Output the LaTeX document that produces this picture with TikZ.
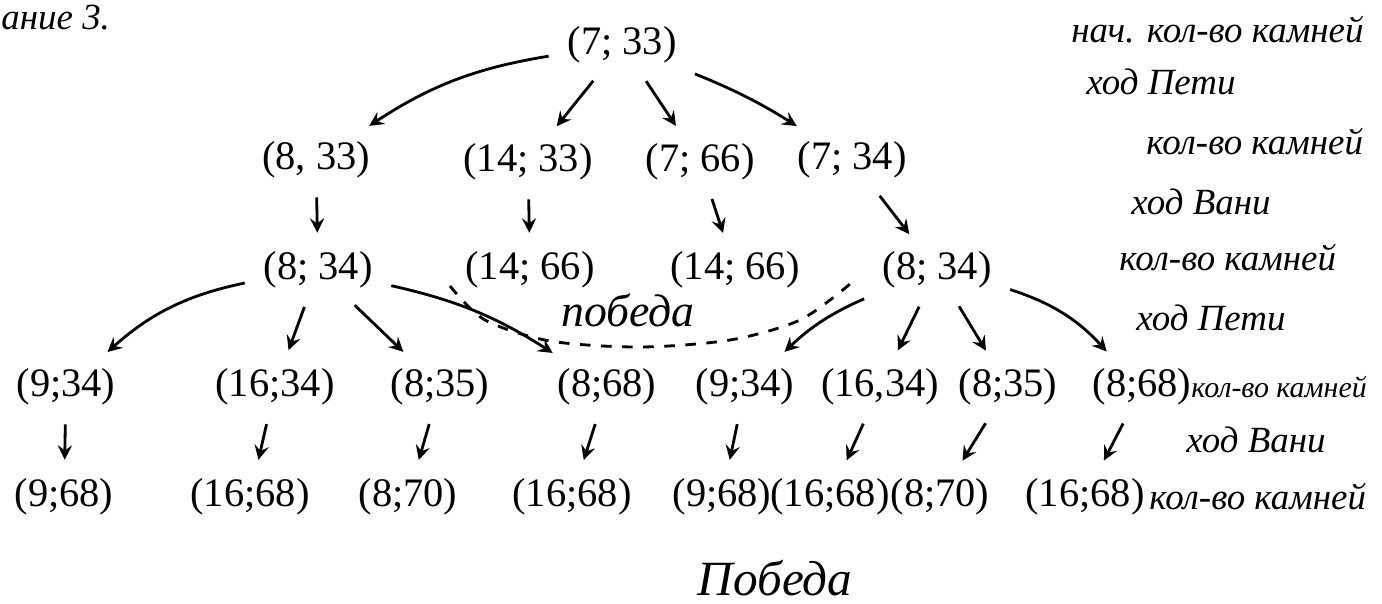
\documentclass[tikz,border=0pt]{standalone}
\usepackage{fontspec}
\setmainfont{Liberation Serif}
\begin{document}
\begin{tikzpicture}[x=0.01cm,y=-0.01cm,>=stealth,thick,
  every node/.style={font=\fontsize{11.5}{13}\selectfont,inner sep=3pt},
  note/.style={font=\itshape\fontsize{10.5}{12}\selectfont,anchor=west,inner sep=0pt}]
\useasboundingbox (0,0) rectangle (1382,603);
\node[note] (tt) at (0,18) {ание 3.};
% tree
\node (p0) at (622,45) {(7; 33)};
\node (p1) at (316,160) {(8, 33)};
\node (p2) at (528,162) {(14; 33)};
\node (p3) at (700,162) {(7; 66)};
\node (p4) at (852,160) {(7; 34)};
\node (q1) at (318,270) {(8; 34)};
\node (q2) at (530,270) {(14; 66)};
\node (q3) at (735,270) {(14; 66)};
\node (q4) at (937,270) {(8; 34)};
\node (s1) at (66,387) {(9;34)};
\node (s2) at (275,387) {(16;34)};
\node (s3) at (440,387) {(8;35)};
\node (s4) at (607,387) {(8;68)};
\node (s5) at (745,387) {(9;34)};
\node (s6) at (880,387) {(16,34)};
\node (s7) at (1008,387) {(8;35)};
\node (s8) at (1142,387) {(8;68)};
\node (t1) at (64,497) {(9;68)};
\node (t2) at (250,497) {(16;68)};
\node (t3) at (408,497) {(8;70)};
\node (t4) at (572,497) {(16;68)};
\node (t5) at (722,497) {(9;68)};
\node (t6) at (830,497) {(16;68)};
\node (t7) at (940,497) {(8;70)};
\node (t8) at (1085,497) {(16;68)};
\foreach \a/\b/\c in {p0/p1/12,p0/p2/0,p0/p3/0,p0/p4/-5,p1/q1/0,p2/q2/0,p3/q3/0,p4/q4/0,
  q1/s1/15,q1/s2/0,q1/s3/0,q1/s4/-10,q4/s5/10,q4/s6/0,q4/s7/0,q4/s8/-15,
  s1/t1/0,s2/t2/0,s3/t3/0,s4/t4/0,s5/t5/0,s6/t6/0,s7/t7/0,s8/t8/0}
  \draw[->,shorten <=2pt,shorten >=2pt] (\a) to[bend right=\c] (\b);
% win marks
\draw[dashed] plot[smooth] coordinates {(450,286) (485,320) (550,341) (640,347) (730,340) (800,320) (850,284)};
\node[note,anchor=center,font=\itshape\fontsize{13}{15}\selectfont] (w1) at (628,310) {победа};
\node[note,anchor=center,font=\itshape\fontsize{14}{16}\selectfont] (w2) at (775,578) {Победа};
% side notes
\node[note] (n0) at (1070,30) {нач. кол-во камней};
\node[note] (n1) at (1085,82) {ход Пети};
\node[note] (n2) at (1145,142) {кол-во камней};
\node[note] (n3) at (1130,202) {ход Вани};
\node[note] (n4) at (1118,258) {кол-во камней};
\node[note] (n5) at (1135,318) {ход Пети};
\node[note,font=\itshape\fontsize{8.5}{10}\selectfont] (n6) at (1190,387) {кол-во камней};
\node[note] (n7) at (1185,440) {ход Вани};
\node[note] (n8) at (1148,497) {кол-во камней};
\end{tikzpicture}
\end{document}
